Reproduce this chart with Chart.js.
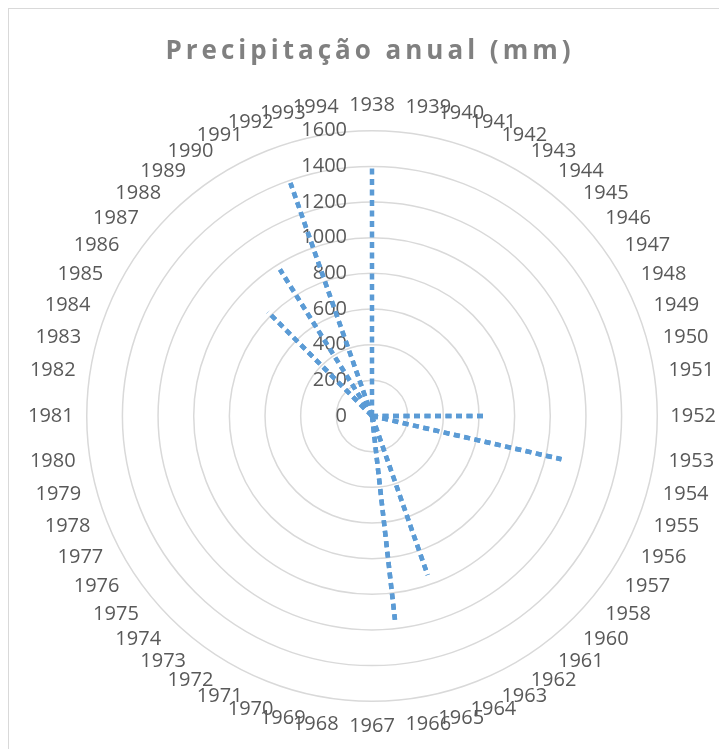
<!DOCTYPE html>
<html>
<head>
<meta charset="utf-8">
<script src="https://cdn.jsdelivr.net/npm/chart.js@4/dist/chart.umd.min.js"></script>
<style>
  html, body { margin: 0; padding: 0; background: #ffffff; overflow: hidden; width: 719px; height: 749px; }
  #frame { position: absolute; left: 8px; top: 8px; width: 760px; height: 800px; border: 1.5px solid #d9d9d9; box-sizing: border-box; }
  #title { position: absolute; left: 0; top: 31px; width: 740px; text-align: center;
           font-family: "Open Sans", sans-serif; font-weight: bold; font-size: 26px;
           letter-spacing: 4px; color: #808080; }
  #chart { position: absolute; left: 0; top: 0; }
</style>
</head>
<body>
<div id="frame"></div>
<canvas id="chart" width="719" height="800"></canvas>
<div id="title">Precipitação anual (mm)</div>
<script>
// Anos da série (1959 não consta)
const years = [
  '1938','1939','1940','1941','1942','1943','1944','1945','1946','1947',
  '1948','1949','1950','1951','1952','1953','1954','1955','1956','1957',
  '1958','1960','1961','1962','1963','1964','1965','1966','1967','1968',
  '1969','1970','1971','1972','1973','1974','1975','1976','1977','1978',
  '1979','1980','1981','1982','1983','1984','1985','1986','1987','1988',
  '1989','1990','1991','1992','1993','1994'
];

// Precipitação anual (mm); anos sem registo aparecem como 0
const precipitation = [
  1400, 0, 0, 0, 0, 0, 0, 0, 0, 0,
  0, 0, 0, 0, 635, 0, 1090, 0, 0, 0,
  0, 0, 0, 0, 0, 945, 0, 1150, 0, 0,
  0, 0, 0, 0, 0, 0, 0, 0, 0, 0,
  0, 0, 0, 0, 0, 0, 0, 0, 0, 825,
  0, 970, 0, 1385, 0, 0
];

// Valores do eixo radial
const radialTicks = [0, 200, 400, 600, 800, 1000, 1200, 1400, 1600];

const TEXT_FONT = '"Open Sans", sans-serif';
const DASH = [6, 4.5];
const DASH_PERIOD = DASH[0] + DASH[1];

// Rótulos do eixo radial alinhados à direita, à esquerda do eixo vertical
const radialTickLabels = {
  id: 'radialTickLabels',
  beforeDatasetsDraw(chart) {
    const scale = chart.scales.r;
    const ctx = chart.ctx;
    ctx.save();
    ctx.font = '20px ' + TEXT_FONT;
    ctx.fillStyle = '#595959';
    ctx.textAlign = 'right';
    ctx.textBaseline = 'middle';
    radialTicks.forEach(v => {
      const d = scale.getDistanceFromCenterForValue(v);
      ctx.fillText(String(v), scale.xCenter - 25, scale.yCenter - d);
    });
    ctx.restore();
  }
};

// O controlador radar não passa a opção "segment" à linha; liga-a aqui
// para que cada troço seja traçado uma só vez, com o seu próprio tracejado.
const radarSegments = {
  id: 'radarSegments',
  afterDatasetsUpdate(chart) {
    chart.data.datasets.forEach((ds, i) => {
      const meta = chart.getDatasetMeta(i);
      const line = meta.dataset;
      if (line && line.options && meta.controller.options.segment) {
        line._chart = chart;
        line._datasetIndex = i;
        line.options.segment = meta.controller.options.segment;
        line._segments = undefined;
        // cada troço parcial é aberto (sem voltar ao seu início)
        line.segments.forEach(s => { s.loop = false; });
      }
    });
  }
};

// No regresso ao centro o padrão fica em fase com o troço de ida,
// para que cada raio mostre um único tracejado.
function segmentDashOffset(ctx) {
  const v0 = precipitation[ctx.p0DataIndex];
  const v1 = precipitation[ctx.p1DataIndex];
  if (v0 > 0 && v1 === 0) {
    const L = ctx.chart.scales.r.getDistanceFromCenterForValue(v0);
    let o = ((DASH[0] - L) % DASH_PERIOD + DASH_PERIOD) % DASH_PERIOD;
    if (o < 0.01) o = 0.01;
    return o;
  }
  return 0;
}

new Chart(document.getElementById('chart'), {
  type: 'radar',
  data: {
    labels: years,
    datasets: [{
      label: 'Precipitação anual (mm)',
      data: precipitation,
      borderColor: '#5b9bd5',
      borderWidth: 4.5,
      borderDash: DASH,
      borderCapStyle: 'butt',
      borderJoinStyle: 'bevel',
      fill: false,
      tension: 0,
      pointRadius: 0,
      pointHoverRadius: 0,
      segment: { borderDashOffset: segmentDashOffset }
    }]
  },
  options: {
    responsive: false,
    devicePixelRatio: 1,
    animation: false,
    layout: { padding: { left: 28, right: 3, top: 72, bottom: 40 } },
    plugins: {
      legend: { display: false },
      title: { display: false },
      tooltip: { enabled: false }
    },
    scales: {
      r: {
        min: 0,
        max: 1600,
        beginAtZero: true,
        ticks: { stepSize: 200, display: false },
        grid: { circular: true, color: '#d9d9d9', lineWidth: 1.5 },
        angleLines: { display: false },
        pointLabels: {
          padding: 13,
          color: '#595959',
          font: { family: TEXT_FONT, size: 20 }
        }
      }
    }
  },
  plugins: [radialTickLabels, radarSegments]
});
</script>
</body>
</html>
